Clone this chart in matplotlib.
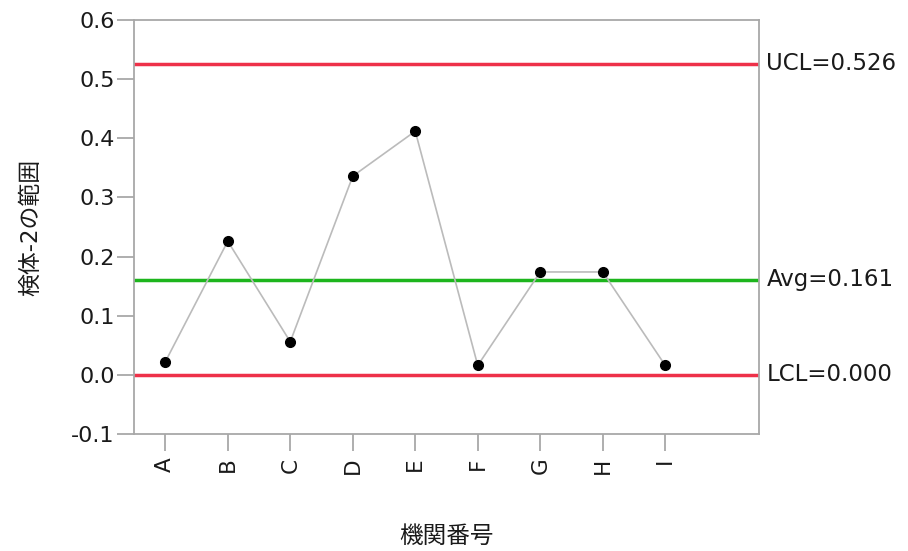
import matplotlib
matplotlib.use("Agg")
import matplotlib.pyplot as plt

plt.rcParams['font.family'] = ['DejaVu Sans', 'Noto Sans CJK JP']

# Range chart data
labs = ["A", "B", "C", "D", "E", "F", "G", "H", "I"]
ranges = [0.022, 0.226, 0.056, 0.336, 0.412, 0.016, 0.174, 0.174, 0.016]
ucl = 0.526
avg = 0.161
lcl = 0.000
yticks = [-0.1, 0.0, 0.1, 0.2, 0.3, 0.4, 0.5, 0.6]

red = "#EE3149"
green = "#1DB51D"
grey = "#A8A8A8"
txt = "#1a1a1a"

fig = plt.figure(figsize=(9.08, 5.51), dpi=100)
ax = fig.add_axes([0.1476, 0.2123, 0.6883, 0.7514])

x = list(range(len(labs)))
ax.axhline(ucl, color=red, lw=2.5, zorder=2)
ax.axhline(avg, color=green, lw=2.5, zorder=2)
ax.axhline(lcl, color=red, lw=2.5, zorder=2)
ax.plot(x, ranges, color="#BBBBBB", lw=1.2, zorder=3)
ax.plot(x, ranges, "o", color="black", ms=7, zorder=4)

ax.set_xlim(-0.5, 9.5)
ax.set_ylim(-0.1, 0.6)
ax.set_xticks(x)
ax.set_xticklabels(labs, rotation=90, fontsize=15.5)
ax.set_yticks(yticks)
ax.set_yticklabels([f"{v:.1f}" for v in yticks], fontsize=16)

for s in ax.spines.values():
    s.set_color(grey)
    s.set_linewidth(1.3)
ax.tick_params(axis="both", direction="out", length=12, width=1.3, color=grey,
               labelcolor=txt)
ax.tick_params(axis="x", pad=5)
ax.tick_params(axis="y", pad=2)

for val, name in [(ucl, "UCL"), (avg, "Avg"), (lcl, "LCL")]:
    ax.text(1.012, val, f"{name}={val:.3f}", transform=ax.get_yaxis_transform(),
            ha="left", va="center", fontsize=16.5, color=txt)

ax.set_ylabel("検体-2の範囲", fontsize=16.5, labelpad=21, color=txt)
ax.set_xlabel("機関番号", fontsize=17, labelpad=36, color=txt)

fig.savefig("out.png", dpi=100)
